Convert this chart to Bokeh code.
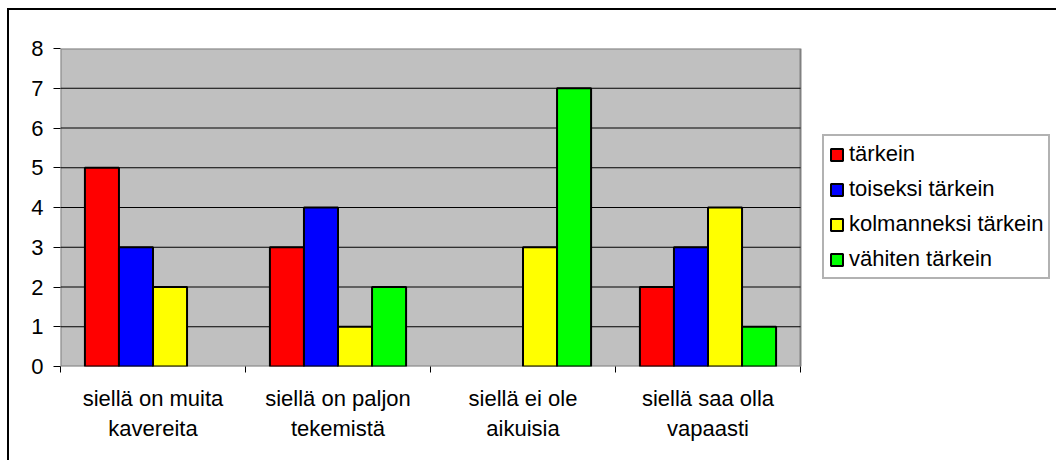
from bokeh.plotting import figure
from bokeh.models import ColumnDataSource, FixedTicker, Range1d, Legend, LegendItem, BoxAnnotation
from bokeh.transform import dodge
from bokeh.embed import file_html
from bokeh.resources import INLINE

categories = ["siellä on muita\nkavereita", "siellä on paljon\ntekemistä",
              "siellä ei ole\naikuisia", "siellä saa olla\nvapaasti"]
series_names = ["tärkein", "toiseksi tärkein", "kolmanneksi tärkein", "vähiten tärkein"]
tarkein = [5, 3, 0, 2]
toiseksi = [3, 4, 0, 3]
kolmanneksi = [2, 1, 3, 4]
vahiten = [0, 2, 7, 1]
colors = ["#FF0000", "#0000FF", "#FFFF00", "#00FF00"]
y_ticks = [0, 1, 2, 3, 4, 5, 6, 7, 8]

FONT = "Liberation Sans"
PLOT_W = 740      # pixel width of the grey plotting area
FRAME_W = 996     # frame extends to the right so the legend fits inside it
ncat = len(categories)
x_end = ncat * FRAME_W / PLOT_W

p = figure(frame_width=FRAME_W, frame_height=318,
           x_range=Range1d(0, x_end), y_range=Range1d(0, y_ticks[-1]),
           output_backend="svg", toolbar_location=None,
           min_border_left=51, min_border_top=38, min_border_right=0, min_border_bottom=94)
p.styles = {"margin-left": "7px", "margin-top": "8px",
            "border-left": "2px solid #000", "border-top": "2px solid #000"}
p.background_fill_color = "white"
p.border_fill_color = "white"
p.outline_line_color = None

# grey plot area
p.add_layout(BoxAnnotation(left=0, right=ncat, bottom=y_ticks[0], top=y_ticks[-1],
                           fill_color="#C0C0C0", fill_alpha=1,
                           line_color="#808080", line_width=2, line_alpha=1, level="underlay"))

# horizontal grid lines limited to the plot area
grid_y = y_ticks[1:-1]
p.segment(x0=[0] * len(grid_y), x1=[ncat] * len(grid_y), y0=grid_y, y1=grid_y,
          line_color="black", line_width=1)

bw = 0.184
offsets = [-1.5 * bw, -0.5 * bw, 0.5 * bw, 1.5 * bw]
items = []
for name, vals, col, off in zip(series_names, [tarkein, toiseksi, kolmanneksi, vahiten], colors, offsets):
    xs = [i + 0.5 for i, v in enumerate(vals) if v > 0]
    ys = [v for v in vals if v > 0]
    src = ColumnDataSource(dict(x=xs, top=ys))
    r = p.vbar(x=dodge("x", off), top="top", bottom=0, width=bw, source=src,
               fill_color=col, line_color="black", line_width=2)
    items.append(LegendItem(label=name, renderers=[r]))

# axes
p.xaxis.ticker = FixedTicker(ticks=[i + 0.5 for i in range(ncat)],
                             minor_ticks=list(range(ncat + 1)))
p.xaxis.major_label_overrides = {i + 0.5: c for i, c in enumerate(categories)}
p.xaxis.major_tick_out = 0
p.xaxis.major_tick_in = 0
p.xaxis.minor_tick_out = 6
p.xaxis.minor_tick_in = 0
p.xaxis.minor_tick_line_color = "black"
p.xaxis.major_label_standoff = 13

p.yaxis.ticker = FixedTicker(ticks=y_ticks, minor_ticks=[])
p.yaxis.major_tick_out = 7
p.yaxis.major_tick_in = 0
p.yaxis.major_label_standoff = 10

for ax in (p.xaxis, p.yaxis):
    ax.axis_line_color = None
    ax.major_tick_line_color = "black"
    ax.major_label_text_font = FONT
    ax.major_label_text_font_size = "22px"
    ax.major_label_text_color = "black"

p.xgrid.visible = False
p.ygrid.visible = False

legend = Legend(items=items, location=(762, 87))
legend.label_text_font = FONT
legend.label_text_font_size = "22px"
legend.label_text_color = "black"
legend.glyph_width = 15
legend.glyph_height = 15
legend.label_standoff = 5
legend.spacing = 9
legend.padding = 5
legend.margin = 0
legend.border_line_color = "#666666"
legend.border_line_width = 2
legend.background_fill_color = "white"
legend.background_fill_alpha = 1
p.add_layout(legend, "center")

open("out.html", "w").write(file_html(p, INLINE))
